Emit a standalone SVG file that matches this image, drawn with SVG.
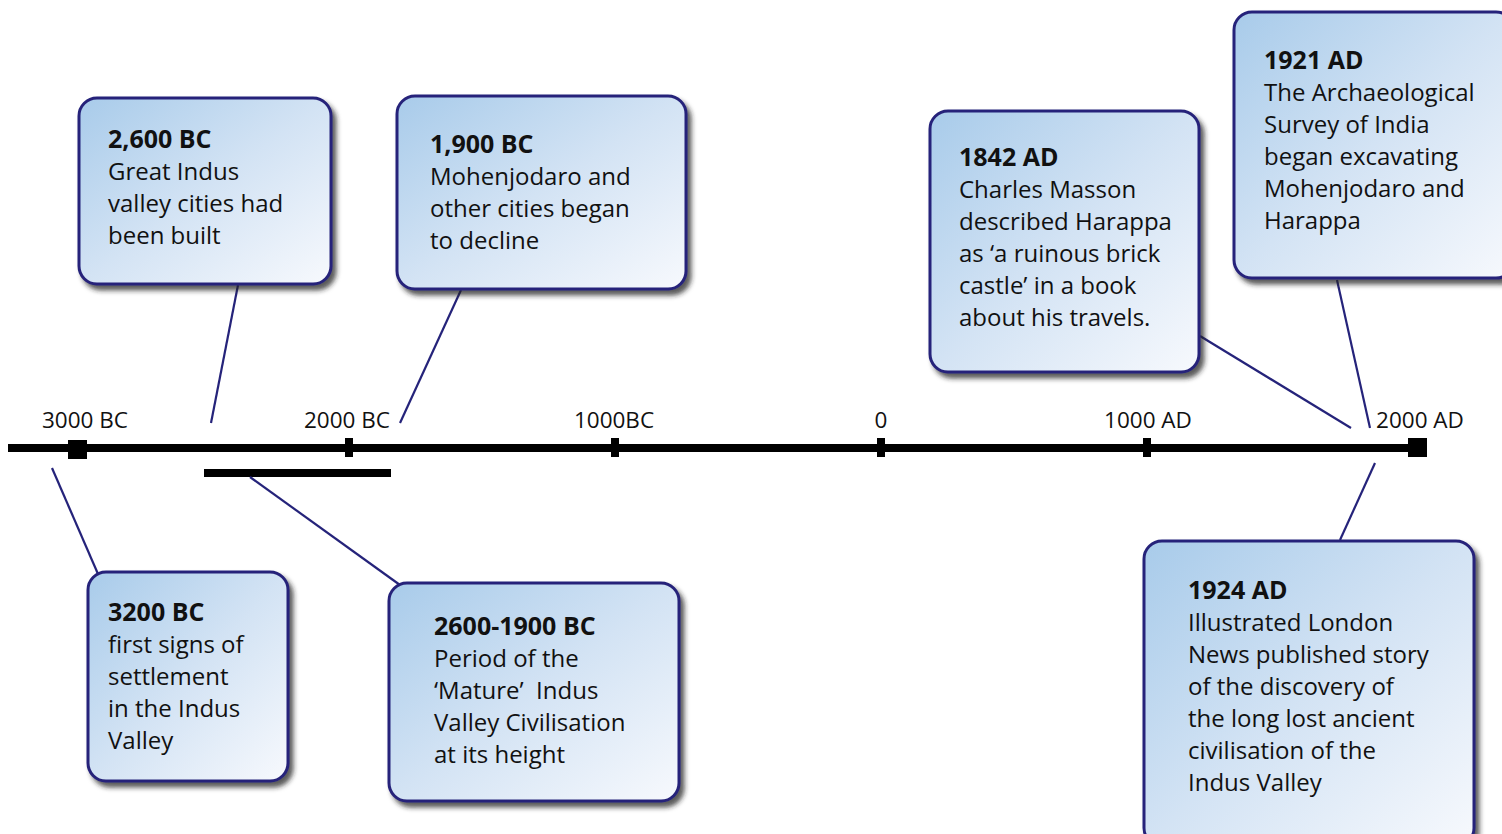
<svg xmlns="http://www.w3.org/2000/svg" width="1502" height="834" viewBox="0 0 1502 834">
<defs>
<linearGradient id="bg" x1="0" y1="0" x2="1" y2="1">
<stop offset="0" stop-color="#a8cbea"/>
<stop offset="0.5" stop-color="#d3e3f4"/>
<stop offset="1" stop-color="#f7f9fd"/>
</linearGradient>
<filter id="sh" x="-10%" y="-10%" width="130%" height="130%">
<feDropShadow dx="4" dy="5" stdDeviation="2.5" flood-color="#222" flood-opacity="0.75"/>
</filter>
</defs>
<style>
.box{fill:url(#bg);stroke:#25237a;stroke-width:3;filter:url(#sh)}
.t{font-family:"Open Sans","Noto Sans",sans-serif;font-size:24px;fill:#111}
.b{font-weight:700;font-size:25px}
.lab{font-family:"Open Sans","Noto Sans",sans-serif;font-size:22.5px;fill:#111}
.con{stroke:#25237a;stroke-width:2.2;fill:none}
</style>
<rect width="1502" height="834" fill="#fff"/>

<g id="timeline">
<rect x="8" y="444" width="1417" height="8" fill="#000"/>
<rect x="68" y="440" width="19" height="19" fill="#000"/>
<rect x="345" y="438" width="8" height="19" fill="#000"/>
<rect x="611" y="438" width="8" height="19" fill="#000"/>
<rect x="877" y="438" width="8" height="19" fill="#000"/>
<rect x="1143" y="438" width="8" height="19" fill="#000"/>
<rect x="1408" y="438" width="19" height="19" fill="#000"/>
<rect x="204" y="469" width="187" height="8" fill="#000"/>
<text class="lab" x="85" y="428" text-anchor="middle">3000 BC</text>
<text class="lab" x="347" y="428" text-anchor="middle">2000 BC</text>
<text class="lab" x="614" y="428" text-anchor="middle">1000BC</text>
<text class="lab" x="881" y="428" text-anchor="middle">0</text>
<text class="lab" x="1148" y="428" text-anchor="middle">1000 AD</text>
<text class="lab" x="1420" y="428" text-anchor="middle">2000 AD</text>
</g>

<g id="connectors">
<line class="con" x1="238" y1="285" x2="211" y2="423"/>
<line class="con" x1="461" y1="290" x2="400" y2="423"/>
<line class="con" x1="1200" y1="336" x2="1351" y2="428"/>
<line class="con" x1="1337" y1="280" x2="1370" y2="428"/>
<line class="con" x1="1375" y1="463" x2="1340" y2="540"/>
<line class="con" x1="52" y1="468" x2="98" y2="574"/>
<line class="con" x1="250" y1="477" x2="400" y2="585"/>
</g>

<g id="n2600">
<rect class="box" x="79" y="98" width="252" height="186" rx="18"/>
<text class="t b" x="108" y="148">2,600 BC</text>
<text class="t" x="108" y="180">Great Indus</text>
<text class="t" x="108" y="212">valley cities had</text>
<text class="t" x="108" y="244">been built</text>
</g>

<g id="n1900">
<rect class="box" x="397" y="96" width="289" height="193" rx="18"/>
<text class="t b" x="430" y="153">1,900 BC</text>
<text class="t" x="430" y="185">Mohenjodaro and</text>
<text class="t" x="430" y="217">other cities began</text>
<text class="t" x="430" y="249">to decline</text>
</g>

<g id="n1842">
<rect class="box" x="930" y="111" width="269" height="261" rx="18"/>
<text class="t b" x="959" y="166">1842 AD</text>
<text class="t" x="959" y="198">Charles Masson</text>
<text class="t" x="959" y="230">described Harappa</text>
<text class="t" x="959" y="262">as ‘a ruinous brick</text>
<text class="t" x="959" y="294">castle’ in a book</text>
<text class="t" x="959" y="326">about his travels.</text>
</g>

<g id="n1921">
<rect class="box" x="1234" y="12" width="280" height="266" rx="18"/>
<text class="t b" x="1264" y="69">1921 AD</text>
<text class="t" x="1264" y="101">The Archaeological</text>
<text class="t" x="1264" y="133">Survey of India</text>
<text class="t" x="1264" y="165">began excavating</text>
<text class="t" x="1264" y="197">Mohenjodaro and</text>
<text class="t" x="1264" y="229">Harappa</text>
</g>

<g id="n3200">
<rect class="box" x="88" y="572" width="200" height="209" rx="18"/>
<text class="t b" x="108" y="621">3200 BC</text>
<text class="t" x="108" y="653">first signs of</text>
<text class="t" x="108" y="685">settlement</text>
<text class="t" x="108" y="717">in the Indus</text>
<text class="t" x="108" y="749">Valley</text>
</g>

<g id="n2600-1900">
<rect class="box" x="389" y="583" width="290" height="218" rx="18"/>
<text class="t b" x="434" y="635">2600-1900 BC</text>
<text class="t" x="434" y="667">Period of the</text>
<text class="t" x="434" y="699" xml:space="preserve">‘Mature’  Indus</text>
<text class="t" x="434" y="731">Valley Civilisation</text>
<text class="t" x="434" y="763">at its height</text>
</g>

<g id="n1924">
<rect class="box" x="1144" y="541" width="330" height="305" rx="18"/>
<text class="t b" x="1188" y="599">1924 AD</text>
<text class="t" x="1188" y="631">Illustrated London</text>
<text class="t" x="1188" y="663">News published story</text>
<text class="t" x="1188" y="695">of the discovery of</text>
<text class="t" x="1188" y="727">the long lost ancient</text>
<text class="t" x="1188" y="759">civilisation of the</text>
<text class="t" x="1188" y="791">Indus Valley</text>
</g>
</svg>
